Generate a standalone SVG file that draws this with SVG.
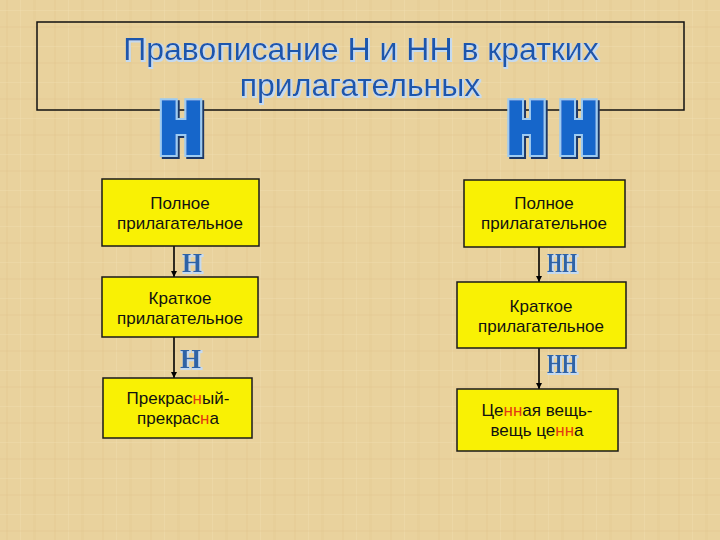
<svg xmlns="http://www.w3.org/2000/svg" width="720" height="540" viewBox="0 0 720 540">
  <defs>
    <pattern id="tex" width="48" height="36" patternUnits="userSpaceOnUse">
      <rect width="48" height="36" fill="#E9D29D"/>
      <rect x="6" y="0" width="2" height="36" fill="#E3C991" opacity="0.4"/>
      <rect x="20" y="0" width="1" height="36" fill="#F0DCAE" opacity="0.5"/>
      <rect x="33" y="0" width="3" height="36" fill="#E2C78E" opacity="0.3"/>
      <rect x="0" y="10" width="48" height="1" fill="#F1DEB2" opacity="0.4"/>
      <rect x="0" y="26" width="48" height="2" fill="#E0C48B" opacity="0.25"/>
    </pattern>
    <filter id="bigfx" x="-30%" y="-30%" width="160%" height="160%">
      <feMorphology in="SourceAlpha" operator="dilate" radius="1.5" result="thick"/>
      <feMorphology in="SourceAlpha" operator="dilate" radius="4" result="outer"/>
      <feOffset in="outer" dx="2" dy="2" result="sh"/>
      <feFlood flood-color="#1C3768"/>
      <feComposite in2="sh" operator="in" result="shadow"/>
      <feFlood flood-color="#9DCBF2"/>
      <feComposite in2="outer" operator="in" result="out"/>
      <feFlood flood-color="#1566CA"/>
      <feComposite in2="thick" operator="in" result="fill"/>
      <feMerge>
        <feMergeNode in="shadow"/>
        <feMergeNode in="out"/>
        <feMergeNode in="fill"/>
      </feMerge>
    </filter>
    <filter id="glow" x="-10%" y="-30%" width="120%" height="160%">
      <feMorphology in="SourceAlpha" operator="dilate" radius="1.2" result="d"/>
      <feOffset in="d" dx="1" dy="1" result="o"/>
      <feFlood flood-color="#C4DAF0"/>
      <feComposite in2="o" operator="in" result="g"/>
      <feMerge>
        <feMergeNode in="g"/>
        <feMergeNode in="SourceGraphic"/>
      </feMerge>
    </filter>
    <marker id="arr" viewBox="0 0 10 10" refX="10" refY="5" markerWidth="6" markerHeight="6" orient="auto" markerUnits="userSpaceOnUse">
      <path d="M0,0 L10,5 L0,10 z" fill="#000"/>
    </marker>
    <style>
      .title { font-family: "Liberation Sans", Arial, sans-serif; font-size: 32px; fill: #1A57AC; text-anchor: middle; }
      .big { font-family: "DejaVu Sans", sans-serif; font-weight: bold; font-size: 70px; fill: #1566CA; }
      .box { fill: #F9F104; stroke: #1A1A1A; stroke-width: 1.5; }
      .bt { font-family: "Liberation Sans", Arial, sans-serif; font-size: 17px; fill: #111; text-anchor: middle; }
      .red { fill: #E23A12; }
      .lbl { font-family: "Liberation Serif", "Times New Roman", serif; font-weight: bold; font-size: 28px; fill: #2E63A6; }
      .conn { stroke: #000; stroke-width: 1.6; fill: none; }
    </style>
  </defs>

  <rect width="720" height="540" fill="url(#tex)"/>

  <g id="title">
    <rect x="37" y="22" width="647" height="88" fill="none" stroke="#111" stroke-width="1.5"/>
    <g filter="url(#glow)">
      <text class="title" x="361" y="60">Правописание Н и НН в кратких</text>
      <text class="title" x="360" y="96">прилагательных</text>
    </g>
  </g>

  <g id="bigH" filter="url(#bigfx)">
    <text class="big" x="159" y="153" textLength="44" lengthAdjust="spacingAndGlyphs">Н</text>
  </g>

  <g id="bigHH" filter="url(#bigfx)">
    <text class="big" transform="translate(507,153) scale(0.665,1)" x="0" y="0">Н<tspan dx="19.5">Н</tspan></text>
  </g>

  <g id="connectors">
    <line class="conn" x1="174" y1="246" x2="174" y2="277" marker-end="url(#arr)"/>
    <line class="conn" x1="174" y1="337" x2="174" y2="378" marker-end="url(#arr)"/>
    <line class="conn" x1="539" y1="247" x2="539" y2="282" marker-end="url(#arr)"/>
    <line class="conn" x1="539" y1="348" x2="539" y2="389" marker-end="url(#arr)"/>
    <g filter="url(#glow)">
      <text class="lbl" x="182" y="272" textLength="20" lengthAdjust="spacingAndGlyphs">Н</text>
      <text class="lbl" x="180" y="368" textLength="21" lengthAdjust="spacingAndGlyphs">Н</text>
      <text class="lbl" x="547" y="272" textLength="30" lengthAdjust="spacingAndGlyphs">НН</text>
      <text class="lbl" x="547" y="373" textLength="30" lengthAdjust="spacingAndGlyphs">НН</text>
    </g>
  </g>

  <g id="left-full">
    <rect class="box" x="102" y="179" width="157" height="67"/>
    <text class="bt" x="180" y="209">Полное</text>
    <text class="bt" x="180" y="229">прилагательное</text>
  </g>

  <g id="left-short">
    <rect class="box" x="102" y="277" width="156" height="60"/>
    <text class="bt" x="180" y="304">Краткое</text>
    <text class="bt" x="180" y="324">прилагательное</text>
  </g>

  <g id="left-example">
    <rect class="box" x="103" y="378" width="149" height="60"/>
    <text class="bt" x="178" y="404">Прекрас<tspan class="red">н</tspan>ый-</text>
    <text class="bt" x="178" y="424">прекрас<tspan class="red">н</tspan>а</text>
  </g>

  <g id="right-full">
    <rect class="box" x="464" y="180" width="161" height="67"/>
    <text class="bt" x="544" y="209">Полное</text>
    <text class="bt" x="544" y="229">прилагательное</text>
  </g>

  <g id="right-short">
    <rect class="box" x="457" y="282" width="169" height="66"/>
    <text class="bt" x="541" y="312">Краткое</text>
    <text class="bt" x="541" y="332">прилагательное</text>
  </g>

  <g id="right-example">
    <rect class="box" x="457" y="389" width="161" height="62"/>
    <text class="bt" x="537" y="416">Це<tspan class="red">нн</tspan>ая вещь-</text>
    <text class="bt" x="537" y="436">вещь це<tspan class="red">нн</tspan>а</text>
  </g>
</svg>
